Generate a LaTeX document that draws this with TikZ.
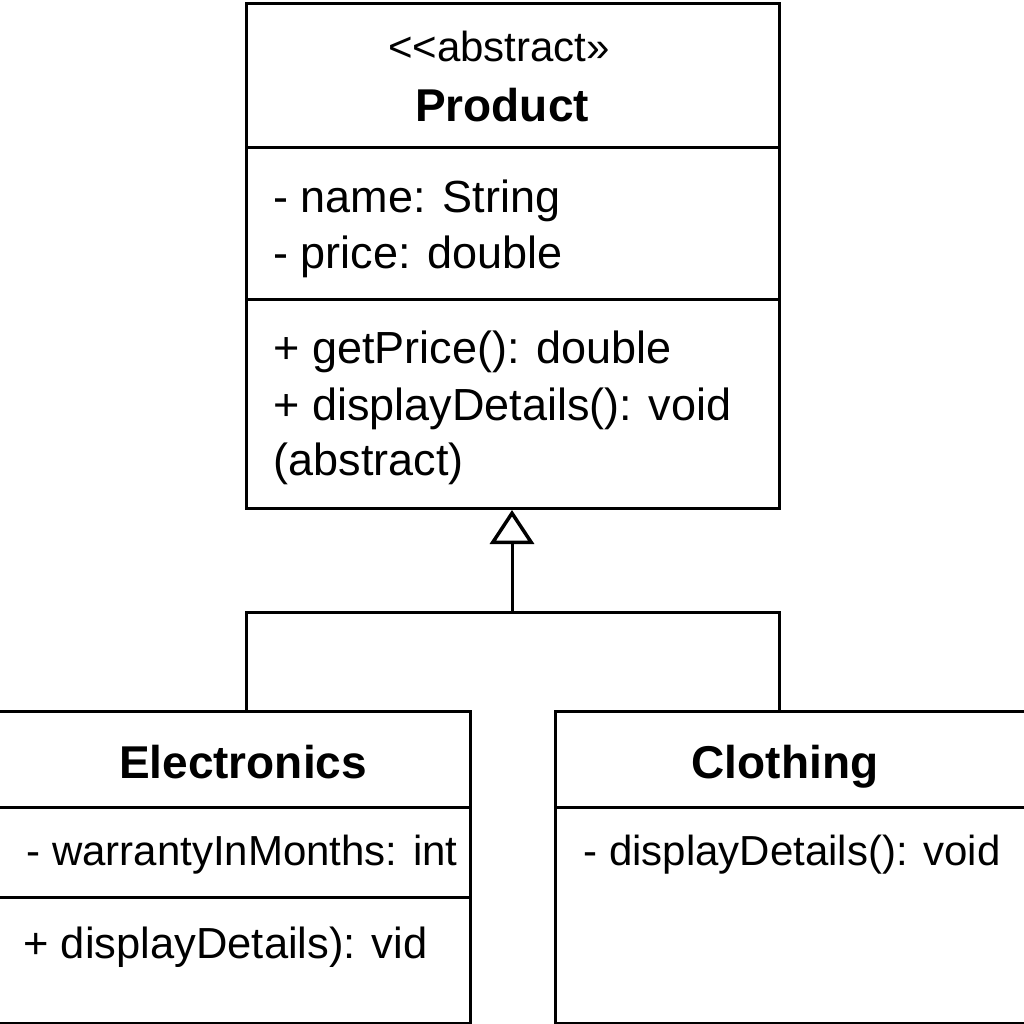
\documentclass[tikz,border=0pt]{standalone}
\usepackage{fontspec}
\setmainfont{Liberation Sans}
\usetikzlibrary{arrows.meta}
\begin{document}
\begin{tikzpicture}[x=1pt,y=-1pt,line width=3pt,
  box/.style={draw,line width=3pt,rectangle,anchor=north west,inner sep=0pt},
  txt/.style={anchor=base west,inner sep=0pt,font=\fontsize{45}{53}\selectfont},
  ttl/.style={anchor=base,inner sep=0pt,font=\fontsize{46}{53}\selectfont\bfseries},
  inherit/.style={-{Triangle[open,length=34pt,width=44pt,line width=3.5pt]}}]
\useasboundingbox (0,0) rectangle (1024,1024);
% Product
\node[box,minimum width=533pt,minimum height=505pt] (prod) at (245,2) {};
\draw ([yshift=-146pt]prod.north west) -- ([yshift=-146pt]prod.north east);
\draw ([yshift=-297pt]prod.north west) -- ([yshift=-297pt]prod.north east);
\node[anchor=base,inner sep=0pt,font=\fontsize{42}{44}\selectfont] (st) at (499,62) {<{}<abstract»};
\node[ttl] (pt) at (502,122) {Product};
\node[txt] (a1) at (272,213) {- name: String};
\node[txt] (a2) at (272,268) {- price: double};
\node[txt] (m1) at (272,363) {+ getPrice(): double};
\node[txt] (m2) at (272,420) {+ displayDetails(): void};
\node[txt] (m3) at (272,475) {(abstract)};
% Electronics
\node[box,minimum width=474pt,minimum height=312pt] (elec) at (-5,710) {};
\draw ([yshift=-97pt]elec.north west) -- ([yshift=-97pt]elec.north east);
\draw ([yshift=-187pt]elec.north west) -- ([yshift=-187pt]elec.north east);
\node[ttl] (et) at (243,778) {Electronics};
\node[txt,font=\fontsize{42}{53}\selectfont] (ea) at (25,865) {- warrantyInMonths: int};
\node[txt,font=\fontsize{43.5}{53}\selectfont] (em) at (22,958) {+ displayDetails): vid};
% Clothing
\node[box,minimum width=476pt,minimum height=312pt] (cloth) at (554,710) {};
\draw ([yshift=-97pt]cloth.north west) -- ([yshift=-97pt]cloth.north east);
\node[ttl] (ct) at (785,778) {Clothing};
\node[txt,font=\fontsize{42}{53}\selectfont] (cm) at (582,865) {- displayDetails(): void};
% Inheritance
\coordinate (j) at (512,612);
\draw[inherit] (j) -- (prod.south -| j);
\draw ([xshift=13pt]elec.north) |- (j) -| ([xshift=-14pt]cloth.north);
\end{tikzpicture}
\end{document}
